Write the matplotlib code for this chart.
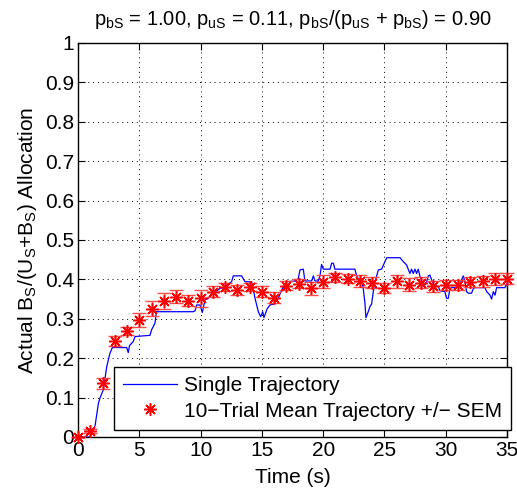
import matplotlib
matplotlib.use('Agg')
import matplotlib.pyplot as plt
import numpy as np

plt.rcParams['font.family'] = ['Liberation Sans', 'DejaVu Sans']
plt.rcParams['mathtext.fontset'] = 'custom'
plt.rcParams['mathtext.rm'] = 'Liberation Sans'
plt.rcParams['mathtext.it'] = 'Liberation Sans:italic'

# single trajectory (traced)
traj_t = [0, 1.0, 1.4, 1.66, 1.8, 2.07, 2.34, 2.6, 2.8, 3.97, 4.1, 4.2, 4.5, 4.65, 5.87,
          6.0, 6.28, 6.4, 9.4, 9.54, 9.68, 9.95, 10.14, 10.36, 10.63, 10.9, 11.17, 11.58,
          11.85, 12.53, 12.67, 13.35, 13.62, 14.17, 14.44, 14.71, 14.9, 15.07, 15.17, 15.44,
          15.66, 15.93, 16.34, 16.61, 17.02, 17.7, 17.97, 18.11, 18.38, 18.51, 19.06, 19.2,
          19.33, 19.6, 19.74, 19.87, 20.01, 20.56, 20.69, 20.83, 20.96, 22.59, 22.73, 22.87,
          23.14, 23.27, 23.41, 23.49, 23.68, 23.82, 23.95, 24.09, 24.23, 24.5, 24.77, 25.04,
          25.18, 26.27, 26.54, 26.8, 27.08, 27.21, 27.35, 27.49, 27.62, 27.76, 27.9, 28.03,
          28.17, 28.3, 28.44, 28.58, 28.71, 28.85, 28.99, 29.39, 29.53, 29.93, 30.07, 30.21,
          30.34, 30.48, 30.75, 31.16, 31.29, 31.43, 31.57, 31.7, 31.84, 32.11, 32.25, 32.38,
          33.2, 33.34, 33.61, 33.74, 33.88, 34.02, 34.15, 34.83, 34.97, 35.0]
traj_v = [0, 0, 0.03, 0.085, 0.10, 0.12, 0.178, 0.212, 0.227, 0.227, 0.214, 0.232, 0.242, 0.255, 0.258,
          0.272, 0.289, 0.318, 0.318, 0.32, 0.335, 0.335, 0.316, 0.348, 0.352, 0.36, 0.367, 0.377,
          0.379, 0.394, 0.409, 0.409, 0.394, 0.394, 0.352, 0.318, 0.305, 0.318, 0.303, 0.326,
          0.335, 0.337, 0.352, 0.373, 0.394, 0.396, 0.402, 0.424, 0.426, 0.396, 0.396, 0.409,
          0.396, 0.396, 0.409, 0.438, 0.426, 0.426, 0.441, 0.441, 0.426, 0.426, 0.409, 0.401,
          0.401, 0.377, 0.339, 0.303, 0.318, 0.331, 0.337, 0.369, 0.394, 0.424, 0.426, 0.445,
          0.455, 0.455, 0.445, 0.437, 0.415, 0.426, 0.415, 0.426, 0.415, 0.426, 0.407, 0.396,
          0.382, 0.386, 0.394, 0.409, 0.411, 0.399, 0.386, 0.382, 0.371, 0.369, 0.352, 0.352,
          0.377, 0.379, 0.379, 0.386, 0.399, 0.409, 0.394, 0.369, 0.365, 0.365, 0.377, 0.379,
          0.379, 0.369, 0.360, 0.350, 0.369, 0.360, 0.379, 0.379, 0.390, 0.384]

# 10-trial mean +/- SEM
mean_t = np.arange(0, 36)
mean_v = [0.0, 0.015, 0.136, 0.243, 0.270, 0.297, 0.325, 0.345, 0.356, 0.346, 0.352, 0.369,
          0.380, 0.373, 0.380, 0.369, 0.354, 0.384, 0.389, 0.377, 0.394, 0.405, 0.402, 0.395,
          0.392, 0.378, 0.395, 0.387, 0.392, 0.383, 0.385, 0.386, 0.394, 0.395, 0.400, 0.402]
sem_v = [0.0, 0.006, 0.013, 0.013, 0.010, 0.018, 0.019, 0.021, 0.017, 0.014, 0.022, 0.013,
         0.010, 0.013, 0.010, 0.013, 0.014, 0.011, 0.011, 0.017, 0.016, 0.011, 0.011, 0.015,
         0.015, 0.012, 0.017, 0.017, 0.014, 0.014, 0.013, 0.012, 0.013, 0.014, 0.015, 0.013]

FS = 15

fig = plt.figure(figsize=(5.17, 4.93), dpi=100)
ax = fig.add_axes([0.1509, 0.1136, 0.8298, 0.7992])

ax.plot(traj_t, traj_v, color='#0000ff', lw=0.9, label='Single Trajectory', zorder=3)
ax.errorbar(mean_t, mean_v, yerr=sem_v, fmt='none', ecolor='#ff4d4d', elinewidth=1.0,
            capsize=5, capthick=1.0, zorder=4, clip_on=False)
ax.plot(mean_t, mean_v, ls='none', marker=(8, 2, 0), ms=9, color='#ff0000', mew=1.1,
        label='10\u2212Trial Mean Trajectory +/\u2212 SEM', zorder=5, clip_on=False)

ax.set_xlim(0, 35)
ax.set_ylim(0, 1)
ax.set_xticks(np.arange(0, 36, 5))
ax.set_yticks(np.arange(0, 1.01, 0.1))
ax.set_yticklabels(['0', '0.1', '0.2', '0.3', '0.4', '0.5', '0.6', '0.7', '0.8', '0.9', '1'])
ax.tick_params(direction='in', length=5, width=0.8, labelsize=FS, top=True, right=True, pad=3)
ax.grid(True, color='black', linestyle=(0, (1, 4)), linewidth=0.7)
for s in ax.spines.values():
    s.set_linewidth(1.0)

ax.set_xlabel('Time (s)', fontsize=FS, labelpad=6)
ax.set_ylabel(r'Actual B$_\mathrm{S}$/(U$_\mathrm{S}$+B$_\mathrm{S}$) Allocation', fontsize=FS, labelpad=4)
ax.set_title(r'p$_\mathrm{bS}$ = 1.00, p$_\mathrm{uS}$ = 0.11, p$_\mathrm{bS}$/(p$_\mathrm{uS}$ + p$_\mathrm{bS}$) = 0.90',
             fontsize=14.5, pad=13)

leg = ax.legend(loc='lower left', bbox_to_anchor=(0.084, 0.018), fontsize=FS, frameon=True,
                fancybox=False, edgecolor='black', framealpha=1, borderaxespad=0,
                handlelength=2.55, handletextpad=0.35, borderpad=0.45, labelspacing=0.3)
leg.get_frame().set_linewidth(1.0)

fig.savefig('out.png', dpi=100)
